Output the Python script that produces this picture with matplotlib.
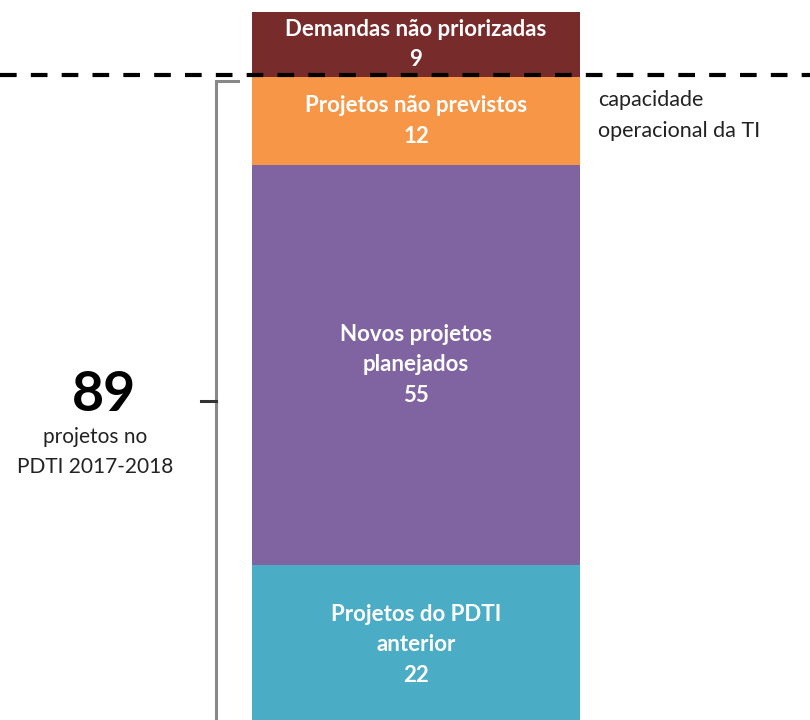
import matplotlib
matplotlib.use("Agg")
import matplotlib.pyplot as plt

# dados
categorias = ["Projetos do PDTI\nanterior", "Novos projetos\nplanejados",
              "Projetos não previstos", "Demandas não priorizadas"]
valores = [22, 55, 12, 9]
cores = ["#4BACC6", "#8064A2", "#F79646", "#772B2B"]
total_pdti = 89
rotulo_total = ["projetos no", "PDTI 2017-2018"]
rotulo_capacidade = "capacidade\noperacional da TI"

plt.rcParams['font.family'] = ['Lato', 'DejaVu Sans']

fig = plt.figure(figsize=(8.1, 7.2), dpi=100)
ax = fig.add_axes([0, 0, 1, 1])
ax.set_xlim(0, 810)
ax.set_ylim(0.69, 99.65)
ax.axis("off")

xc = 416
base = 0
for cat, v, c in zip(categorias, valores, cores):
    ax.bar(xc, v, width=328, bottom=base, color=c)
    ax.text(xc, base + v / 2, cat + "\n" + str(v), ha="center", va="center",
            color="white", fontweight="bold", fontsize=16, linespacing=1.55)
    base += v

# capacidade operacional
ax.axhline(total_pdti + 0.3, color="black", lw=3.0, dashes=(4.0, 3.4))
ax.text(598, total_pdti - 5.2, rotulo_capacidade, ha="left", va="center",
        fontsize=15.5, color="#222222", linespacing=1.65)

# chave
y_top = total_pdti - 0.5
ax.plot([238, 216, 216], [y_top, y_top, 0], color="#888888", lw=2.2,
        solid_joinstyle="miter")
ax.plot([201, 216], [total_pdti / 2, total_pdti / 2], color="#333333", lw=2.2)

ax.text(104, total_pdti / 2 + 0.8, str(total_pdti), ha="center", va="center",
        fontsize=40, fontweight="bold", color="black")
ax.text(95, total_pdti / 2 - 7.0, "\n".join(rotulo_total), ha="center",
        va="center", fontsize=15, color="#222222", linespacing=1.65)

fig.savefig("out.png", dpi=100)
